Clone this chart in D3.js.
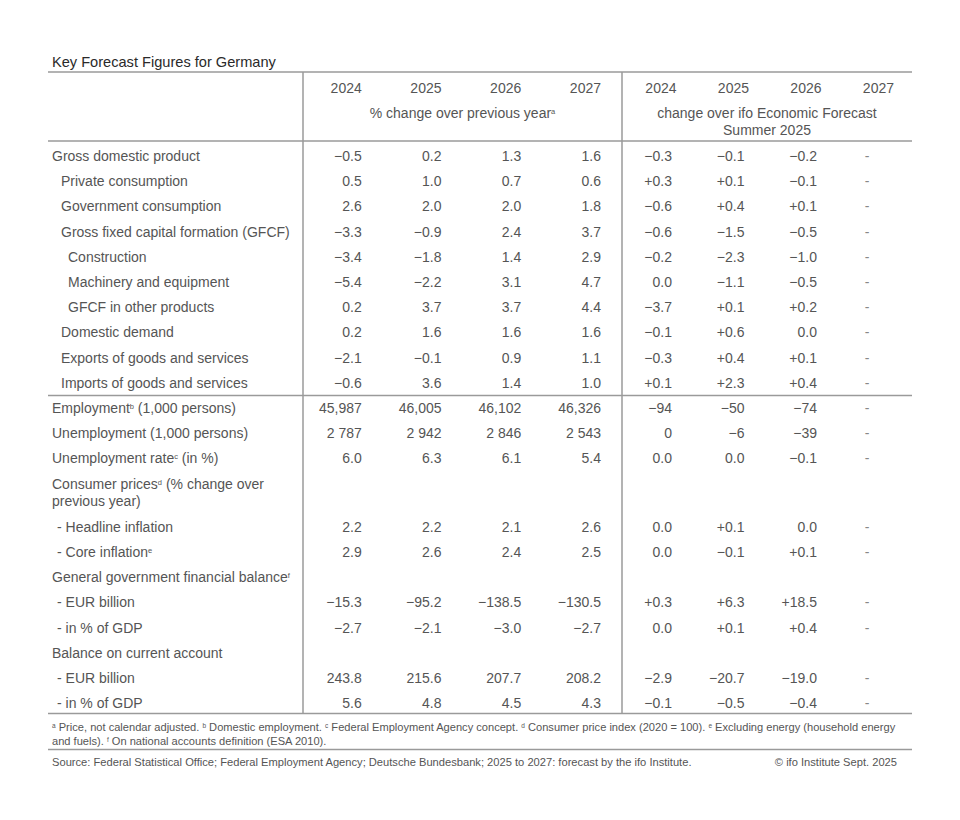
<!DOCTYPE html>
<html><head><meta charset="utf-8">
<script src="https://cdn.jsdelivr.net/npm/d3@7"></script>
<style>
body{margin:0;background:#fff}
text{font-family:"Liberation Sans",Arial,sans-serif;fill:#555}
</style>
</head><body><svg id="c" width="960" height="820"></svg>
<script>
const title = "Key Forecast Figures for Germany";
const years = ["2024","2025","2026","2027"];
const groupLabelA = [["% change over previous year","a"]];
const groupLabelB = [["change over ifo Economic Forecast",""],["Summer 2025",""]];

const rowLabels = [
  [["Gross domestic product",""]],
  [["Private consumption",""]],
  [["Government consumption",""]],
  [["Gross fixed capital formation (GFCF)",""]],
  [["Construction",""]],
  [["Machinery and equipment",""]],
  [["GFCF in other products",""]],
  [["Domestic demand",""]],
  [["Exports of goods and services",""]],
  [["Imports of goods and services",""]],
  [["Employment","b"," (1,000 persons)"]],
  [["Unemployment (1,000 persons)",""]],
  [["Unemployment rate","c"," (in %)"]],
  [["Consumer prices","d"," (% change over"],["previous year)",""]],
  [["- Headline inflation",""]],
  [["- Core inflation","e"]],
  [["General government financial balance","f"]],
  [["- EUR billion",""]],
  [["- in % of GDP",""]],
  [["Balance on current account",""]],
  [["- EUR billion",""]],
  [["- in % of GDP",""]]
];
const rowIndent = [0,1,1,1,2,2,2,1,1,1,0,0,0,0,3,3,0,3,3,0,3,3];

const values2024 = ["−0.5","0.5","2.6","−3.3","−3.4","−5.4","0.2","0.2","−2.1","−0.6","45,987","2 787","6.0","","2.2","2.9","","−15.3","−2.7","","243.8","5.6"];
const values2025 = ["0.2","1.0","2.0","−0.9","−1.8","−2.2","3.7","1.6","−0.1","3.6","46,005","2 942","6.3","","2.2","2.6","","−95.2","−2.1","","215.6","4.8"];
const values2026 = ["1.3","0.7","2.0","2.4","1.4","3.1","3.7","1.6","0.9","1.4","46,102","2 846","6.1","","2.1","2.4","","−138.5","−3.0","","207.7","4.5"];
const values2027 = ["1.6","0.6","1.8","3.7","2.9","4.7","4.4","1.6","1.1","1.0","46,326","2 543","5.4","","2.6","2.5","","−130.5","−2.7","","208.2","4.3"];

const change2024 = ["−0.3","+0.3","−0.6","−0.6","−0.2","0.0","−3.7","−0.1","−0.3","+0.1","−94","0","0.0","","0.0","0.0","","+0.3","0.0","","−2.9","−0.1"];
const change2025 = ["−0.1","+0.1","+0.4","−1.5","−2.3","−1.1","+0.1","+0.6","+0.4","+2.3","−50","−6","0.0","","+0.1","−0.1","","+6.3","+0.1","","−20.7","−0.5"];
const change2026 = ["−0.2","−0.1","+0.1","−0.5","−1.0","−0.5","+0.2","0.0","+0.1","+0.4","−74","−39","−0.1","","0.0","+0.1","","+18.5","+0.4","","−19.0","−0.4"];
const change2027 = ["-","-","-","-","-","-","-","-","-","-","-","-","-","","-","-","","-","-","","-","-"];

const footnotes = [
  [["","a"],[" Price, not calendar adjusted. ",""],["","b"],[" Domestic employment. ",""],["","c"],[" Federal Employment Agency concept. ",""],["","d"],[" Consumer price index (2020 = 100). ",""],["","e"],[" Excluding energy (household energy",""]],
  [["and fuels). ",""],["","f"],[" On national accounts definition (ESA 2010).",""]]
];
const source = "Source: Federal Statistical Office; Federal Employment Agency; Deutsche Bundesbank; 2025 to 2027: forecast by the ifo Institute.";
const copyright = "© ifo Institute Sept. 2025";

// ---------- layout ----------
const svg = d3.select("#c");
const L = 48, R = 912, colA0 = 303, colB0 = 622;
const lineColor = "#9a9a9a";
const FS = 14;

const xA = d3.scaleBand().domain(years).range([colA0, colB0]);
const xB = d3.scaleBand().domain(years).range([colB0, R]);
const indentX = d3.scaleOrdinal().domain([0,1,2,3]).range([52, 61, 68, 57]);

// row units
const rowUnits = [];
let u = 0;
rowLabels.forEach((lines,i)=>{ if(i===10) u = 10; rowUnits.push(u); u += 1 + 0.72*(lines.length-1); });
const lastUnit = rowUnits[rowUnits.length-1];
const yU = d3.scaleLinear().domain([0,1]).range([156, 181.2]);
const bottomY = yU(lastUnit + 0.4);

// title
svg.append("text").attr("x",52).attr("y",62).attr("dy","0.35em")
  .style("font-size","14.6px").style("fill","#2a2a2a").text(title);

// horizontal rules
const rules = [72, yU(-0.6), yU(9.5), bottomY];
svg.selectAll("line.h").data(rules).join("line").attr("class","h")
  .attr("x1",L).attr("x2",R).attr("y1",d=>d).attr("y2",d=>d)
  .attr("stroke",lineColor).attr("stroke-width",1.5);
// vertical rules
svg.selectAll("line.v").data([colA0,colB0]).join("line").attr("class","v")
  .attr("x1",d=>d).attr("x2",d=>d).attr("y1",72).attr("y2",bottomY)
  .attr("stroke",lineColor).attr("stroke-width",1.5);

function richText(sel, parts, supSize){
  parts.forEach(p=>{
    if(p[0]) sel.append("tspan").text(p[0]);
    if(p[1]) sel.append("tspan").attr("baseline-shift","super").style("font-size",supSize+"px").text(p[1]);
    if(p[2]) sel.append("tspan").text(p[2]);
  });
}

// header years
years.forEach(y=>{
  svg.append("text").attr("x",xA(y)+xA.bandwidth()-21).attr("y",88).attr("dy","0.35em")
    .attr("text-anchor","end").style("font-size",FS+"px").text(y);
  svg.append("text").attr("x",xB(y)+xB.bandwidth()-18).attr("y",88).attr("dy","0.35em")
    .attr("text-anchor","end").style("font-size",FS+"px").text(y);
});
groupLabelA.forEach((ln,i)=>{
  const t = svg.append("text").attr("x",(colA0+colB0)/2).attr("y",113+17*i).attr("dy","0.35em")
    .attr("text-anchor","middle").style("font-size",FS+"px");
  richText(t,[ln],7.5);
});
groupLabelB.forEach((ln,i)=>{
  const t = svg.append("text").attr("x",(colB0+R)/2).attr("y",113+17*i).attr("dy","0.35em")
    .attr("text-anchor","middle").style("font-size",FS+"px");
  richText(t,[ln],7.5);
});

// row labels
rowLabels.forEach((lines,i)=>{
  lines.forEach((ln,j)=>{
    const t = svg.append("text").attr("x",indentX(rowIndent[i]))
      .attr("y",yU(rowUnits[i])+17*j).attr("dy","0.35em").style("font-size",FS+"px");
    richText(t,[ln],7.5);
  });
});

// values
const colsA = [values2024,values2025,values2026,values2027];
const colsB = [change2024,change2025,change2026,change2027];
years.forEach((y,k)=>{
  svg.append("g").selectAll("text").data(colsA[k]).join("text")
    .attr("x",xA(y)+xA.bandwidth()-21).attr("y",(d,i)=>yU(rowUnits[i])).attr("dy","0.35em")
    .attr("text-anchor","end").style("font-size",FS+"px").text(d=>d);
  svg.append("g").selectAll("text").data(colsB[k]).join("text")
    .attr("x",d=>d==="-" ? xB(y)+xB.bandwidth()-45 : xB(y)+xB.bandwidth()-22.5)
    .attr("y",(d,i)=>yU(rowUnits[i])).attr("dy","0.35em")
    .attr("text-anchor",d=>d==="-"?"middle":"end").style("font-size",FS+"px")
    .style("fill",d=>d==="-"?"#888":null).text(d=>d);
});

// footnotes
footnotes.forEach((parts,i)=>{
  const t = svg.append("text").attr("x",52).attr("y",bottomY+14+14*i).attr("dy","0.35em").style("font-size","11.1px");
  parts.forEach(p=>{
    if(p[0]) t.append("tspan").text(p[0]);
    if(p[1]) t.append("tspan").attr("baseline-shift","super").style("font-size","6.5px").text(p[1]);
  });
});
const sy = bottomY + 36;
svg.append("line").attr("x1",L).attr("x2",R).attr("y1",sy).attr("y2",sy).attr("stroke",lineColor).attr("stroke-width",1.5);
svg.append("text").attr("x",52).attr("y",sy+13).attr("dy","0.35em").style("font-size","11.15px").text(source);
svg.append("text").attr("x",897).attr("y",sy+13).attr("dy","0.35em").attr("text-anchor","end").style("font-size","11.15px").text(copyright);
</script>
</body></html>
